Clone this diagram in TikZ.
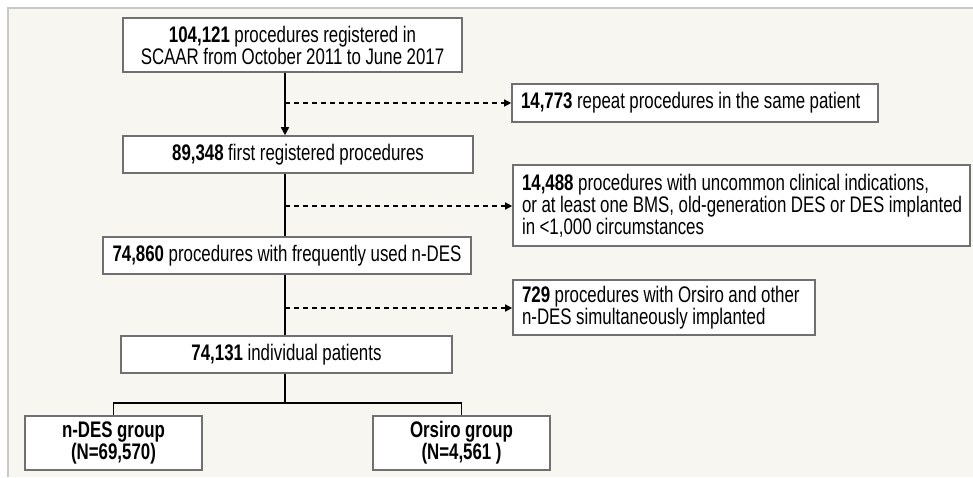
\documentclass[tikz,border=0pt]{standalone}
\usepackage{fontspec}
\setmainfont[FakeStretch=0.75]{Liberation Sans}
\usetikzlibrary{arrows.meta,calc}
\definecolor{cream}{RGB}{248,246,240}
\definecolor{panelline}{RGB}{200,200,200}
\definecolor{boxline}{RGB}{112,112,112}
\newcommand{\myfont}{\fontsize{22.5}{19}\selectfont\spaceskip=0.2em plus 0.05em minus 0.05em\relax}
\newcommand{\sps}{\spaceskip=0.2em plus 0.05em minus 0.05em\relax}
\newcommand{\oneline}[1]{\mbox{\sps #1}}
\begin{document}
\begin{tikzpicture}[x=1pt,y=-1pt,
  box/.style={draw=boxline,line width=1.6pt,fill=white,inner sep=0pt,align=center,
    font=\myfont},
  lbox/.style={draw=boxline,line width=1.6pt,fill=white,inner xsep=9pt,inner ysep=0pt,align=left,
    font=\myfont},
  conn/.style={line width=1.6pt,black},
  dconn/.style={line width=1.3pt,black,dash pattern=on 5pt off 4pt,-{Triangle[length=7pt,width=7pt]}},
]
\useasboundingbox (0,0) rectangle (973,477);
\fill[white] (0,0) rectangle (973,477);
\fill[cream] (8,8) rectangle (973,477);
\draw[panelline,line width=1.5pt] (8,477) -- (8,8) -- (973,8);

\node[box,minimum width=339pt,minimum height=54pt] (b1) at (292.5,45)
  {\textbf{104,121} procedures registered in\\SCAAR from October 2011 to June 2017};
\node[box,minimum width=350pt,minimum height=37pt] (b2) at (298,154.5)
  {\textbf{89,348} first registered procedures};
\node[box,minimum width=368pt,minimum height=37pt] (b3) at (287,255.5)
  {\textbf{74,860} procedures with frequently used n-DES};
\node[box,minimum width=331pt,minimum height=37pt] (b4) at (286.5,354.5)
  {\textbf{74,131} individual patients};
\node[box,minimum width=177pt,minimum height=54pt,font=\myfont\bfseries] (b5) at (113.5,443)
  {n-DES group\\(N=69,570)};
\node[box,minimum width=177pt,minimum height=54pt,font=\myfont\bfseries] (b6) at (461.5,443)
  {Orsiro group\\(N=4,561 )};

\node[lbox,text width=348pt,minimum height=38pt] (r1) at (695,103)
  {\oneline{\textbf{14,773} repeat procedures in the same patient}};
\node[lbox,text width=439pt,minimum height=81pt] (r2) at (741.5,205.5)
  {\oneline{\textbf{14,488} procedures with uncommon clinical indications,}\\\oneline{or at least one BMS, old-generation DES or DES implanted}\\\oneline{in <1,000 circumstances}};
\node[lbox,text width=284pt,minimum height=55pt] (r3) at (664,307.5)
  {\oneline{\textbf{729} procedures with Orsiro and other}\\\oneline{n-DES simultaneously implanted}};

\coordinate (spine) at (285,0);
\coordinate (j1) at (285,103);
\coordinate (j2) at (285,206);
\coordinate (j3) at (285,308);
\coordinate (br) at (285,403);

\draw[conn,-{Triangle[length=8pt,width=8pt]}] (b1.south -| spine) -- (b2.north -| spine);
\draw[conn] (b2.south -| spine) -- (b3.north -| spine);
\draw[conn] (b3.south -| spine) -- (b4.north -| spine);
\draw[conn] (b4.south -| spine) -- (br);
\draw[conn] (b5.north) -- (b5.north |- br) -- (b6.north |- br) -- (b6.north);

\draw[dconn] (j1) -- (r1.west |- j1);
\draw[dconn] (j2) -- (r2.west |- j2);
\draw[dconn] (j3) -- (r3.west |- j3);
\end{tikzpicture}
\end{document}
